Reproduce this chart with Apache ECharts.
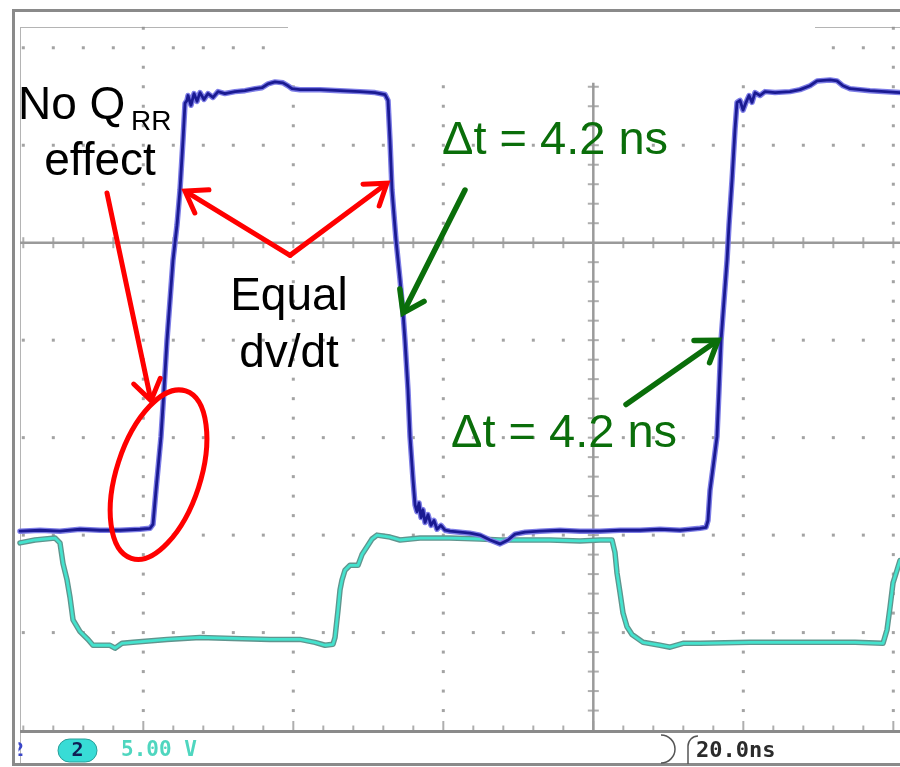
<!DOCTYPE html>
<html>
<head>
<meta charset="utf-8">
<script src="https://cdn.jsdelivr.net/npm/echarts@6/dist/echarts.min.js"></script>
<style>
  html, body { margin: 0; padding: 0; background: #ffffff; }
  #scope { width: 900px; height: 767px; }
</style>
</head>
<body>
<div id="scope"></div>
<script>
// Horizontal axis: time in ns (20 ns per division).
// Vertical axis: screen divisions, 0 = centre line of the graticule.
const TIME_MIN = -16.44, TIME_MAX = 100.89;
const DIV_MIN = -5.1, DIV_MAX = 2.213;

// Channel 1 (switch-node voltage), dark blue trace
const ch1Time = [-16.44, -13.77, -11.11, -8.44, -5.77, -3.11, -0.44, 0.89, 1.29, 1.69, 2.36, 2.76, 3.16, 3.56, 3.96, 4.49, 4.89, 5.29, 5.56, 5.83, 5.96, 6.36, 6.76, 7.16, 7.56, 8.09, 8.63, 9.29, 9.96, 10.89, 12.23, 13.56, 14.89, 15.83, 16.63, 17.56, 18.63, 19.29, 19.83, 20.89, 23.56, 26.23, 28.89, 30.89, 32.23, 32.63, 32.89, 33.16, 33.69, 34.23, 34.63, 34.89, 35.29, 35.56, 35.96, 36.23, 36.49, 36.76, 37.03, 37.29, 37.56, 37.96, 38.36, 38.76, 39.16, 39.69, 40.23, 40.89, 42.23, 43.56, 44.89, 46.23, 47.56, 48.63, 49.56, 50.89, 52.89, 55.56, 58.23, 60.89, 63.56, 66.23, 68.89, 71.56, 74.23, 75.03, 75.29, 75.56, 76.09, 76.49, 76.76, 77.03, 77.43, 77.83, 78.09, 78.49, 78.89, 79.16, 79.56, 79.96, 80.36, 80.76, 81.16, 81.56, 82.23, 82.89, 84.23, 86.23, 87.56, 88.89, 89.83, 91.56, 92.49, 93.29, 94.23, 96.89, 100.89];
const ch1Level = [-2.96, -2.95, -2.96, -2.94, -2.95, -2.95, -2.94, -2.93, -2.89, -2.54, -1.99, -1.51, -1.00, -0.59, -0.18, 0.18, 0.54, 1.05, 1.43, 1.46, 1.51, 1.41, 1.53, 1.45, 1.54, 1.47, 1.53, 1.49, 1.55, 1.53, 1.55, 1.56, 1.58, 1.59, 1.63, 1.65, 1.64, 1.61, 1.58, 1.57, 1.57, 1.56, 1.55, 1.54, 1.52, 1.46, 1.05, 0.54, 0.03, -0.38, -0.72, -1.00, -1.51, -1.99, -2.43, -2.69, -2.76, -2.67, -2.82, -2.74, -2.87, -2.79, -2.90, -2.85, -2.94, -2.90, -2.95, -2.96, -2.97, -2.98, -3.00, -3.05, -3.09, -3.05, -2.99, -2.97, -2.96, -2.95, -2.96, -2.96, -2.95, -2.95, -2.94, -2.95, -2.93, -2.92, -2.85, -2.54, -2.23, -1.99, -1.51, -1.00, -0.59, -0.18, 0.18, 0.64, 1.16, 1.44, 1.46, 1.36, 1.44, 1.51, 1.44, 1.54, 1.51, 1.55, 1.54, 1.55, 1.57, 1.61, 1.66, 1.67, 1.66, 1.61, 1.58, 1.56, 1.54];

// Channel 2 (gate drive, 5.00 V/div), turquoise trace
const ch2Time = [-16.44, -14.44, -13.11, -11.77, -11.11, -10.71, -10.17, -9.77, -9.37, -8.44, -7.37, -6.71, -4.44, -3.77, -2.84, -1.37, 3.16, 7.56, 11.96, 16.89, 20.89, 22.89, 24.23, 25.29, 25.56, 25.96, 26.23, 26.49, 26.89, 27.56, 28.63, 29.16, 29.83, 30.49, 31.16, 32.89, 34.23, 36.89, 40.89, 44.89, 47.56, 54.23, 58.23, 60.89, 62.49, 62.89, 63.16, 63.56, 63.96, 64.49, 65.16, 66.63, 68.89, 70.23, 71.96, 74.23, 80.89, 87.56, 94.89, 98.63, 99.16, 99.56, 99.96, 100.49, 100.89];
const ch2Level = [-3.08, -3.05, -3.04, -3.03, -3.08, -3.29, -3.46, -3.64, -3.87, -3.99, -4.07, -4.13, -4.13, -4.16, -4.11, -4.10, -4.07, -4.05, -4.06, -4.07, -4.07, -4.10, -4.13, -4.12, -4.05, -3.77, -3.56, -3.46, -3.36, -3.31, -3.31, -3.20, -3.12, -3.04, -3.00, -3.02, -3.05, -3.03, -3.03, -3.04, -3.05, -3.05, -3.06, -3.05, -3.05, -3.18, -3.39, -3.59, -3.80, -3.94, -4.02, -4.10, -4.13, -4.15, -4.11, -4.11, -4.10, -4.10, -4.10, -4.11, -3.97, -3.74, -3.49, -3.36, -3.26];

// Status bar readouts
const ch2Badge = '2';
const ch2Scale = '5.00 V';
const timeScale = '20.0ns';

// Annotation anchors in (ns, div)
const redArrows = [
  { tail: [-4.84, 0.51], tip: [1.03, -1.62] },
  { tail: [19.56, -0.13], tip: [5.56, 0.53] },
  { tail: [19.56, -0.13], tip: [32.49, 0.61] }
];
const greenArrows = [
  { tail: [42.89, 0.54], tip: [34.63, -0.72] },
  { tail: [64.36, -1.66], tip: [76.63, -1.00] }
];
const ellipseCentre = [2.03, -2.38];

const zip = (xs, ys) => xs.map((x, i) => [x, ys[i]]);

// Graticule: dotted major lines, centre cross and bottom edge with ticks
const inHeader = (t, v) => v > 1.67 && t > 18 && t < 90;
const dots = [], hTicks = [], vTicks = [], bottomMinor = [], bottomMajor = [];
for (let k = -4; k <= 25; k++) {
  const t = k * 4;
  if (t < TIME_MIN || t > TIME_MAX) continue;
  if (t !== 60) {
    for (const v of [-4, -3, -2, -1, 1, 2]) if (!inHeader(t, v)) dots.push([t, v]);
    hTicks.push([t, 0]);
  }
  (t % 20 === 0 ? bottomMajor : bottomMinor).push([t, -5.015]);
}
for (let m = -24; m <= 11; m++) {
  const v = m / 5;
  for (const t of [0, 20, 40, 80, 100]) {
    if (m % 5 === 0 && v !== 0) continue;
    if (v === 0 || inHeader(t, v)) continue;
    dots.push([t, v]);
  }
  if (m !== 0 && m <= 8) vTicks.push([60, v]);
}

const grey = '#9a9a9a';
const plain = (extra) => Object.assign({
  type: 'scatter', silent: true, animation: false, clip: false,
  itemStyle: { color: grey }
}, extra);
const trace = (data, color, width, z) => ({
  type: 'line', data, showSymbol: false, animation: false, silent: true, z,
  lineStyle: { color, width, join: 'round', cap: 'round' }
});

const chart = echarts.init(document.getElementById('scope'), null, { renderer: 'canvas' });
chart.setOption({
  backgroundColor: '#ffffff',
  animation: false,
  grid: { left: 20, right: 0, top: 27, bottom: 27.2 },
  xAxis: { type: 'value', min: TIME_MIN, max: TIME_MAX, show: false },
  yAxis: { type: 'value', min: DIV_MIN, max: DIV_MAX, show: false },
  series: [
    plain({ data: dots, symbol: 'rect', symbolSize: 3, itemStyle: { color: '#8c8c8c' } }),
    { type: 'line', data: [[TIME_MIN, 0], [TIME_MAX, 0]], showSymbol: false, silent: true, animation: false,
      lineStyle: { color: grey, width: 2.5 } },
    { type: 'line', data: [[60, 1.64], [60, -5]], showSymbol: false, silent: true, animation: false,
      lineStyle: { color: grey, width: 2.5 } },
    { type: 'line', data: [[TIME_MIN, -5.015], [TIME_MAX, -5.015]], showSymbol: false, silent: true, animation: false, clip: false,
      lineStyle: { color: '#8a8a8a', width: 3 } },
    plain({ data: hTicks, symbol: 'rect', symbolSize: [2, 11] }),
    plain({ data: vTicks, symbol: 'rect', symbolSize: [11, 2] }),
    plain({ data: bottomMinor, symbol: 'rect', symbolSize: [2, 6], symbolOffset: [0, -3] }),
    plain({ data: bottomMajor, symbol: 'rect', symbolSize: [2, 11], symbolOffset: [0, -5] }),
    trace(zip(ch2Time, ch2Level), '#5f958e', 5.5, 3),
    trace(zip(ch2Time, ch2Level), '#44e2cd', 2.8, 4),
    trace(zip(ch1Time, ch1Level), '#7d7de6', 5.5, 5),
    trace(zip(ch1Time, ch1Level), '#1a1a92', 2.8, 6)
  ]
});

// Annotations and frame
const px = (p) => chart.convertToPixel({ gridIndex: 0 }, p);
const FONT = '"Liberation Sans", Arial, sans-serif';
const MONO = '"DejaVu Sans Mono", monospace';
const RED = '#ff0000', GREEN = '#0a6e0a';

function arrow(tailData, tipData, color, width) {
  const [x1, y1] = px(tailData), [x2, y2] = px(tipData);
  const ang = Math.atan2(y2 - y1, x2 - x1), L = 24, a = 0.6;
  const w1 = [x2 - L * Math.cos(ang - a), y2 - L * Math.sin(ang - a)];
  const w2 = [x2 - L * Math.cos(ang + a), y2 - L * Math.sin(ang + a)];
  const ex = x2 - 2.5 * Math.cos(ang), ey = y2 - 2.5 * Math.sin(ang);
  return [
    { type: 'line', z: 50, silent: true, shape: { x1, y1, x2: ex, y2: ey },
      style: { stroke: color, lineWidth: width, lineCap: 'round' } },
    { type: 'polyline', z: 50, silent: true, shape: { points: [w1, [x2, y2], w2] },
      style: { stroke: color, lineWidth: width, lineCap: 'round', lineJoin: 'miter', fill: null } }
  ];
}

const label = (text, x, y, size, color, align, weight, family, z) => ({
  type: 'text', z: z || 50, silent: true, x, y,
  style: { text, font: `${weight || 'normal'} ${size}px ${family || FONT}`, fill: color,
           textAlign: align || 'left', textVerticalAlign: 'middle' }
});

const frameLine = (x1, y1, x2, y2, color, w, z) => ({
  type: 'line', z: z || 1, silent: true, shape: { x1, y1, x2, y2 },
  style: { stroke: color, lineWidth: w }
});

const [ex, ey] = px(ellipseCentre);
const graphic = [
  // outer bezel and inner borders
  frameLine(12, 10.5, 900, 10.5, '#8a8a8a', 3),
  frameLine(12, 764.5, 900, 764.5, '#8a8a8a', 3),
  frameLine(20.5, 27, 20.5, 763, '#b4b4b4', 1),
  frameLine(20, 27.5, 288, 27.5, '#b4b4b4', 1),
  frameLine(815, 27.5, 900, 27.5, '#b4b4b4', 1),
  // status bar
  { type: 'arc', z: 1, silent: true, shape: { cx: 661, cy: 749, r: 14, startAngle: -Math.PI / 2, endAngle: Math.PI / 2, clockwise: true },
    style: { stroke: '#555555', lineWidth: 1.5, fill: null } },
  { type: 'arc', z: 1, silent: true, shape: { cx: 698, cy: 746, r: 10, startAngle: Math.PI, endAngle: Math.PI * 1.5, clockwise: true },
    style: { stroke: '#555555', lineWidth: 1.5, fill: null } },
  frameLine(688, 746, 688, 764, '#555555', 1.5),
  // channel-1 badge, mostly hidden behind the bezel
  label('2', 12, 751, 20, '#3a46c8', 'left', 'bold', MONO, 1),
  { type: 'rect', z: 2, silent: true, shape: { x: 12, y: 736, width: 6.5, height: 26 }, style: { fill: '#ffffff' } },
  frameLine(13.5, 9, 13.5, 766, '#8a8a8a', 3, 3),
  { type: 'rect', z: 2, silent: true, shape: { x: 58, y: 739, width: 39, height: 23, r: 11.5 },
    style: { fill: '#38dcd6', stroke: '#2a9e98', lineWidth: 1 } },
  label(ch2Badge, 77.5, 751, 20, '#0f1e55', 'center', 'bold', MONO),
  label(ch2Scale, 121, 751, 21, '#4fd6bf', 'left', 'bold', MONO),
  label(timeScale, 696, 751, 22, '#2b2b2b', 'left', 'bold', MONO),
  // annotation texts
  label('No Q', 18, 106, 46, '#000000'),
  label('RR', 131, 122.5, 28, '#000000'),
  label('effect', 100, 162, 46, '#000000', 'center'),
  label('Equal', 289, 297, 46, '#000000', 'center'),
  label('dv/dt', 289, 354, 46, '#000000', 'center'),
  label('\u0394t = 4.2 ns', 442, 141, 47, GREEN),
  label('\u0394t = 4.2 ns', 451, 434, 47, GREEN),
  // circled turn-on edge
  { type: 'ellipse', z: 50, silent: true, x: ex, y: ey, rotation: -18 * Math.PI / 180,
    shape: { cx: 0, cy: 0, rx: 42, ry: 88 },
    style: { stroke: RED, lineWidth: 5, fill: null } }
];
redArrows.forEach(a => graphic.push(...arrow(a.tail, a.tip, RED, 5)));
greenArrows.forEach(a => graphic.push(...arrow(a.tail, a.tip, GREEN, 5.5)));

chart.setOption({ graphic });
</script>
</body>
</html>
